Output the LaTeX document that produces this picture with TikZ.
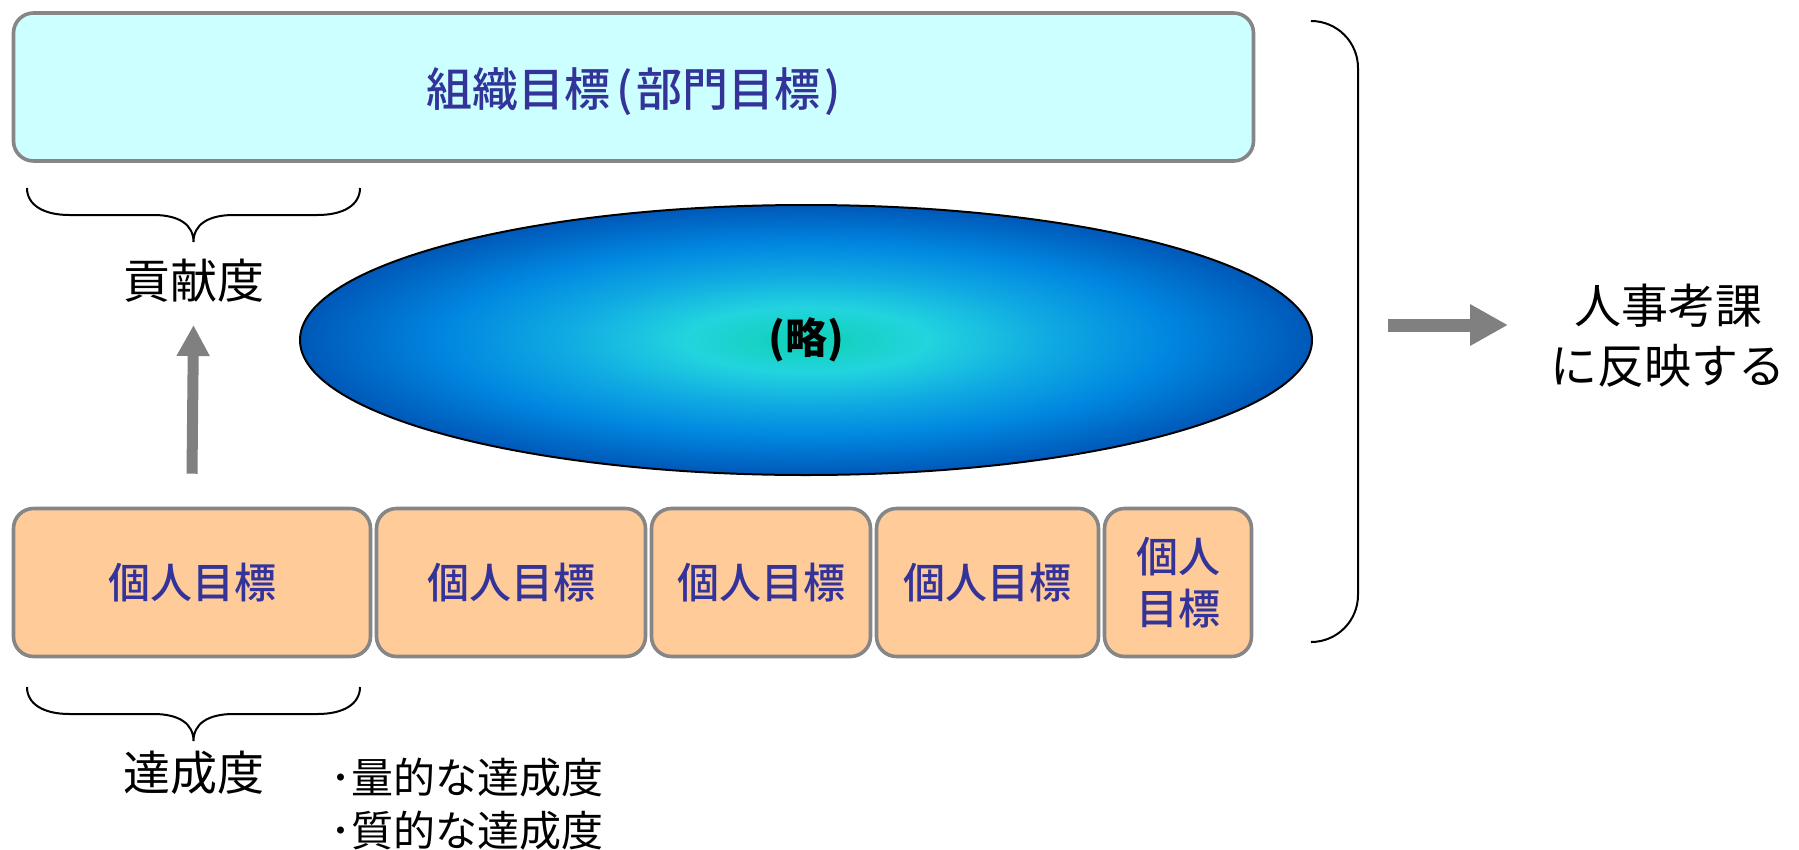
\documentclass[tikz,border=0pt]{standalone}
\usepackage{fontspec}
\newfontfamily\jp{Noto Sans CJK JP}
\newfontfamily\jpm{Noto Sans CJK JP}[UprightFont={* Medium}]
\usetikzlibrary{shapes.geometric,arrows.meta}
\definecolor{topfill}{HTML}{CCFFFF}
\definecolor{botfill}{HTML}{FFCC99}
\definecolor{boxline}{HTML}{868686}
\definecolor{txtblue}{HTML}{333399}
\definecolor{arrgray}{HTML}{808080}
\definecolor{sc0}{RGB}{16,208,180}
\definecolor{sc1}{RGB}{34,212,222}
\definecolor{sc2}{RGB}{16,170,226}
\definecolor{sc3}{RGB}{0,134,224}
\definecolor{sc4}{RGB}{0,88,184}
\pgfdeclareradialshading{ovalshade}{\pgfpoint{0bp}{0bp}}{color(0bp)=(sc0); color(6bp)=(sc1); color(12bp)=(sc2); color(18bp)=(sc3); color(25bp)=(sc4); color(50bp)=(sc4)}
\tikzset{
  curlybrace/.pic={
    \draw[black, line width=2pt]
      (-166.5,0) .. controls (-166.5,17) and (-150,27) .. (-124,27)
      -- (-40,27) .. controls (-14,27) and (0,37) .. (0,54)
      .. controls (0,37) and (14,27) .. (40,27)
      -- (124,27) .. controls (150,27) and (166.5,17) .. (166.5,0);
  }
}
\begin{document}
\begin{tikzpicture}[x=1pt,y=-1pt,
  goalbox/.style={draw=boxline, line width=3.6pt, rounded corners=20pt, inner sep=0pt,
    fill=botfill, text=txtblue, align=center,
    font=\jpm\fontsize{42pt}{52pt}\selectfont, minimum height=148pt},
  lbl/.style={inner sep=0pt, text=black, font=\jp\fontsize{47pt}{60pt}\selectfont, align=center},
  smalllbl/.style={inner sep=0pt, text=black, font=\jp\fontsize{42pt}{53pt}\selectfont, anchor=west},
  blockarrow/.style={draw=arrgray, line width=#1}
]
\fill[white] (0,0) rectangle (1799,849);
\useasboundingbox (0,0) rectangle (1799,849);

% top box
\node[goalbox, fill=topfill, minimum width=1240pt, text depth=0pt,
  font=\jpm\fontsize{46pt}{52pt}\selectfont] (org) at (633.5,87)
  {組織目標\kern6pt(\kern4pt部門目標\kern4pt)};

% ellipse
\node[ellipse, draw=black, line width=2pt, shading=ovalshade, minimum width=1012pt, minimum height=270pt,
  inner sep=0pt, font=\jp\bfseries\fontsize{42pt}{50pt}\selectfont] (oval) at (806,340) {(略)};

% individual goal boxes
\node[goalbox, minimum width=357pt] (b1) at (192,582.5) {個人目標};
\node[goalbox, minimum width=269pt] (b2) at (511,582.5) {個人目標};
\node[goalbox, minimum width=219pt] (b3) at (761,582.5) {個人目標};
\node[goalbox, minimum width=222pt] (b4) at (987.5,582.5) {個人目標};
\node[goalbox, minimum width=147pt] (b5) at (1178,582.5) {個人\\目標};

% braces and labels
\pic at (193.5,188) {curlybrace};
\node[lbl] (kou) at (194,281) {貢献度};
\pic at (193.5,687) {curlybrace};
\node[lbl] (tas) at (194,773) {達成度};
\node[smalllbl] (q1) at (330,778) {･量的な達成度};
\node[smalllbl] (q2) at (330,831) {･質的な達成度};

% up arrow
\coordinate (upTip) at (193.5,325);
\draw[blockarrow=11pt, -{Triangle[length=31pt,width=31pt]}] ([yshift=33pt]b1.north) -- (upTip);

% right bracket
\draw[black, line width=2pt, rounded corners=47pt] (1312,21) -| (1358,331) |- (1312,642);

% right arrow and text
\node[lbl] (hr) at (1668,336) {人事考課\\に反映する};
\coordinate (raS) at (1388,325);
\coordinate (raE) at (1508,325);
\draw[blockarrow=13pt, -{Triangle[length=38pt,width=39pt]}] (raS) -- (raE);
\end{tikzpicture}
\end{document}
